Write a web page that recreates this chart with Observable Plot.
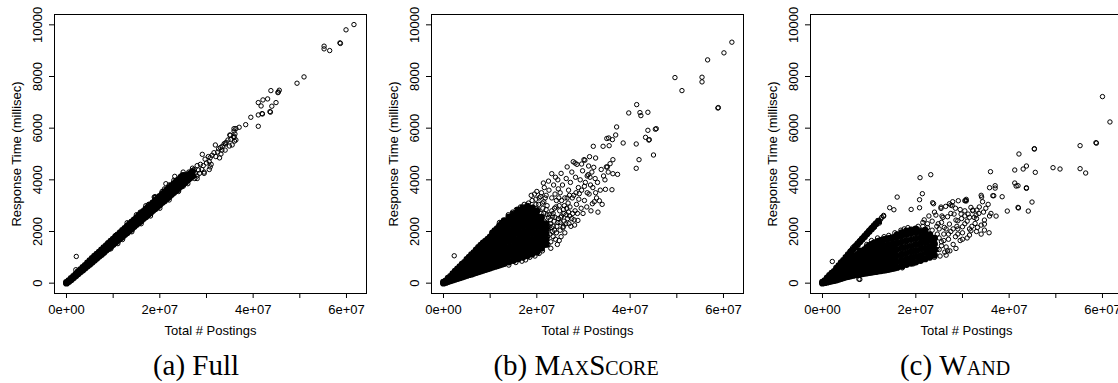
<!DOCTYPE html>
<html><head><meta charset="utf-8">
<script src="https://cdn.jsdelivr.net/npm/d3@7"></script>
<script src="https://cdn.jsdelivr.net/npm/@observablehq/plot@0.6"></script>
<style>
html,body{margin:0;padding:0;background:#fff;}
#fig{position:relative;width:1118px;height:383px;overflow:hidden;background:#fff;}
.panel{position:absolute;top:0;width:378px;height:345px;}
.panel svg{max-width:none !important;display:block;}
.cap{position:absolute;top:351px;font-family:"Liberation Serif","Times New Roman",serif;font-size:29px;line-height:29px;transform:translateX(-50%);white-space:nowrap;color:#000;}
.sc{font-variant:small-caps;}
</style></head><body><div id="fig"></div>
<script>
// ---- axis ticks ----
const xTickValues = [0, 1e7, 2e7, 3e7, 4e7, 5e7, 6e7];
const xTickLabels = ["0e+00", "", "2e+07", "", "4e+07", "", "6e+07"];
const yTickValues = [0, 2000, 4000, 6000, 8000, 10000];
const yTickLabels = ["0", "2000", "4000", "6000", "8000", "10000"];
const xTitle = "Total # Postings";
const yTitle = "Response Time (millisec)";
const captionLetters = ["(a)", "(b)", "(c)"];
const captionNames = ["Full", "MaxScore", "Wand"];

// ---- data: x in millions of postings, y in milliseconds ----
// dense cores: [x, [y values]]
const fullCore = [[0,[0,30]],[0.5,[60,100]],[1,[130,180]],[1.5,[210,260]],[2,[290,350]],[2.5,[360,440]],[3,[440,520]],[3.5,[510,610]],[4,[590,690]],[4.5,[660,780]],[5,[730,800,870]],[5.5,[810,880,960]],[6,[890,960,1040]],[6.5,[960,1040,1120]],[7,[1040,1120,1200]],[7.5,[1110,1200,1290]],[8,[1190,1280,1370]],[8.5,[1270,1360,1450]],[9,[1340,1440,1540]],[9.5,[1420,1520,1620]],[10,[1500,1600,1700]],[10.5,[1570,1680,1790]],[11,[1650,1760,1870]],[11.5,[1730,1840,1950]],[12,[1800,1920,2040]],[12.5,[1880,2000,2120]],[13,[1950,2080,2210]],[13.5,[2030,2160,2290]],[14,[2110,2240,2370]],[14.5,[2190,2320,2450]],[15,[2270,2400,2530]],[15.5,[2340,2480,2620]],[16,[2420,2560,2700]],[16.5,[2500,2640,2780]],[17,[2570,2720,2870]],[17.5,[2650,2800,2950]],[18,[2730,2880,3030]],[18.5,[2810,2960,3110]],[19,[2880,3040,3200]],[19.5,[2960,3120,3280]],[20,[3040,3200,3360]],[20.5,[3120,3280,3440]],[21,[3190,3360,3530]],[21.5,[3270,3440,3610]],[22,[3350,3520,3690]],[22.5,[3430,3600,3770]],[23,[3510,3680,3850]],[23.5,[3590,3760,3930]],[24,[3670,3840,4010]],[24.5,[3750,3920,4090]],[25,[3830,4000,4170]],[25.5,[3910,4080]],[26,[3990,4160]],[26.5,[4070,4240]],[27,[4150,4320]]];
const fullOutliers = [[61.6,10010],[59.9,9806],[58.6,9302],[58.7,9280],[55.2,9174],[55.2,9070],[56.4,9004],[50.9,7984],[49.4,7740],[45.6,7468],[45.3,7376],[45.4,7400],[43.8,7454],[43.1,7132],[42.1,7093],[41.1,6990],[41.7,6860],[44.9,6990],[44.0,6850],[43.6,6641],[43.7,6620],[41.9,6563],[42.0,6550],[41.1,6512],[39.5,6422],[41.1,6073],[38.4,6136],[37.0,6034],[35.9,5981],[36.1,5775],[35.0,5736],[36.3,5543],[35.9,5640],[34.6,5543],[34.1,5388],[34.9,5310],[33.3,5155],[31.9,5349],[29.1,4987],[23.2,4134],[21.3,3850],[18.8,3333],[2.1,1034],[2.0,520],
[26.8,4100],[27.3,4400],[27.6,4250],[28.0,4550],[28.3,4380],[28.7,4600],[29.3,4550],[29.7,4800],[30.0,4650],[30.4,4900],[30.8,4858],[30.6,4700],[31.2,4950],[31.6,5050],[32.0,4900],[32.4,5077],[32.6,5200],[33.0,5250],[33.4,5300],[33.8,5400],[34.2,5450],[35.1,5724],[35.2,5568],[35.9,5891],[35.9,5685],[36.3,5982],[36.0,5500],[33.1,5000],[31.0,4600],[29.0,4400],[27.5,4050],[26.2,4300],[25.5,4200],[25.0,3750],[24.5,4150],[24.0,3600],[23.5,3950],[22.8,3500],[22.0,3800],[21.0,3150],[20.5,3550],[19.6,3050],[19.0,3350],[18.3,2750],[17.6,3050],[16.5,2500],[15.8,2750],[14.5,2180],[13.8,2350],[30.8,4500],[29.5,4300],[28.5,4250],[32.8,4850],[34.0,5150],[35.5,5350],[30.6,4400],[29.5,4250],[28.0,4150],
[12,1690],[13,2340],[14,1990],[15,2650],[16,2300],[17,3000],[18,2600],[19,3320],[20,2900],[21,3650],[22,3220],[23,3980],[24,3550],[25,4300],[26,3850],[27,4450],[28,4050],[11,1530],[10.5,1850],[9.5,1330],[8.8,1550]];

const maxscoreCore = [[0,[0,40]],[0.5,[30,90]],[1,[60,130,190]],[1.5,[90,170,260]],[2,[120,210,290,370]],[2.5,[150,250,350,460]],[3,[180,280,380,470,550]],[3.5,[210,320,430,540,640]],[4,[240,360,480,600,730]],[4.5,[270,400,530,660,800]],[5,[300,430,560,690,820,920]],[5.5,[330,470,610,750,880,1010]],[6,[350,500,650,800,950,1100]],[6.5,[380,530,690,850,1010,1180]],[7,[410,570,730,890,1050,1200,1290]],[7.5,[440,600,770,940,1110,1270,1380]],[8,[470,640,810,980,1150,1320,1470]],[8.5,[500,670,850,1030,1210,1390,1560]],[9,[530,710,890,1070,1250,1430,1620]],[9.5,[560,740,930,1120,1310,1500,1700]],[10,[590,790,990,1190,1390,1590,1790]],[10.5,[620,820,1020,1220,1420,1620,1820,1940]],[11,[650,850,1050,1250,1450,1650,1850,2030]],[11.5,[670,870,1070,1280,1480,1690,1900,2110]],[12,[700,900,1100,1300,1500,1700,1900,2100,2220]],[12.5,[730,930,1130,1330,1530,1730,1930,2130,2320]],[13,[760,960,1160,1360,1560,1760,1960,2160,2360,2420]],[14,[820,1020,1220,1420,1620,1820,2020,2220,2420,2560]],[15,[880,1080,1280,1480,1680,1880,2080,2280,2480,2680]],[16,[940,1140,1340,1540,1740,1940,2140,2340,2540,2740,2830]],[17,[1000,1200,1400,1600,1800,2000,2200,2400,2600,2800,2920]],[18,[1060,1260,1460,1660,1860,2060,2260,2460,2660,2860,2980]],[19,[1130,1330,1530,1730,1930,2130,2330,2530,2730,2900]],[20,[1200,1400,1600,1800,2000,2200,2400,2600,2800]],[21,[1350,1550,1750,1950,2150,2350,2550]],[22,[1500,1700,1900,2100,2300]]];
const maxscoreOutliers = [[61.8,9328],[60.1,8915],[56.6,8643],[49.6,7958],[55.4,7972],[55.4,7791],[51.1,7454],[58.9,6796],[58.8,6780],[41.4,6912],[39.7,6589],[42.1,6602],[42.3,6486],[43.8,6615],[37.1,6047],[43.8,5917],[45.6,5981],[45.4,5960],[43.3,5646],[44.1,5556],[44.0,5540],[41.3,5388],[45.0,4961],[41.9,4780],[41.3,4446],[38.5,5426],[36.9,5736],[36.2,5556],[35.4,5620],[35.0,5600],[34.2,5298],[35.5,5322],[32.1,5298],[32.6,4845],[31.3,4896],[36.3,4780],[33.4,3190],[34.7,3632],[36.1,3617],[30.1,4780],[30.3,4760],[29.6,4612],[31.1,4535],[32.2,4483],[36.3,4238],[37.3,4212],[35.7,4625],[35.1,4496],[31.9,3075],[28.8,2429],[25.6,2145],[29.1,3463],[2.3,1060],[21.4,3876],[23.2,4238],[24.0,4100],
[25.0,3500],[25.5,3800],[26.0,3300],[26.3,4050],[26.8,3600],[27.2,3900],[27.5,4300],[27.9,3400],[28.3,4100],[28.6,4600],[28.9,3700],[29.3,4000],[29.8,4350],[30.4,3900],[30.8,4150],[31.5,3800],[31.8,4300],[32.5,4050],[33.0,3900],[33.8,4400],[34.3,4150],[34.9,4500],[35.3,4300],[33.6,3600],[32.8,3300],[31.2,3450],[30.2,3200],[29.5,2900],[28.2,2800],[27.0,2600],[26.2,2300],[24.6,2500],[23.8,2900],[23.2,3300],[22.6,3600],[22.0,3400],[21.5,3150],[24.2,3200],[24.9,2800],[25.8,2700],[26.7,3100],[27.6,3300],[28.5,3050],[29.9,2700],[30.7,2950],[31.6,2800],[32.3,3150],[33.1,2750],[34.0,3050],[23.5,2200],[22.8,1900],[24.0,1700],[22.4,1500],[23.0,1600],[21.2,1250],[20.5,1150],[19.6,1050],[18.5,1000],[17.6,900],[16.8,850],[15.5,800],[14.0,700],[21.8,3300],[20.8,3350],[19.8,3250],[19.0,3200],[18.2,3100],[17.3,3050],[16.5,2950],[15.6,2850],[14.8,2750],[13.9,2650],[12.0,2350],[24.5,4000],[23.6,3800],[25.2,4250],[26.5,4500],[27.8,4700],[28.2,4650],[31.0,4200],[34.6,4000],[23.0,1350],[24.4,1500],[25.2,1800],[26.0,1950],[27.3,2200],[28.0,2450],[25.0,2350],[26.8,2750],[23.9,2550],[22.2,2650],[21.6,2400],[22.9,2450],
[20.5,3300],[21.0,3500],[21.5,2700],[22.2,3000],[22.6,2200],[23.2,2800],[23.7,2400],[24.3,2200],[24.8,3000],[25.3,3200],[25.8,2400],[26.4,2900],[27.0,3400],[22.0,2850],[21.2,3100],[20.3,2850],[19.5,3450],[18.8,3400],[20.0,3550],[21.6,3700],[22.5,3950],[23.9,3450],[24.6,3650],[20.8,1400],[21.7,1600],[22.3,1800],[23.3,2000],[24.2,1950],[25.0,2050],[25.7,2200],[26.6,2500],[20.4,3050],[21.3,2900],[22.7,2650],[23.4,2600],[20.9,2700],[19.8,3050],
[19.2,2950],[19.7,2750],[20.2,2500],[20.7,2250],[21.1,2000],[21.8,1900],[22.4,2100],[22.9,2300],[23.5,2700],[24.1,2950],[24.7,3300],[25.3,2600],[25.9,3000],[26.5,3300],[27.1,2950],[27.7,2700],[28.4,3500],[29.0,3250],[29.6,3600],[30.2,3750],[30.8,3500],[31.4,4100],[32.0,3700],[32.6,3500],[20.0,1700],[20.6,1900],[21.3,1800],[21.9,2250],[22.5,2550],[23.1,2150],[23.8,2050],[24.5,2350],[25.1,2550],[25.7,2850],[26.3,2650],[26.9,2300],[27.5,2500],[28.1,2250],[28.7,2700],[19.5,1300],[19.0,1180],[20.2,1280],[21.5,1450],[22.0,1650],[23.5,1800],[24.8,1650]];

const wandCore = [[0,[0,40]],[0.5,[20,100]],[1,[40,120,200]],[1.5,[60,150,240,300]],[2,[80,180,280,390]],[2.5,[100,210,330,450]],[3,[120,240,360,480,580]],[3.5,[150,270,400,530,680]],[4,[180,300,440,580,720,790]],[4.5,[210,340,480,630,780,880]],[5,[240,380,530,680,830,1000]],[5.5,[260,420,580,740,880,1100]],[6,[280,450,620,790,950,1200]],[6.5,[300,480,660,840,1000,1300]],[7,[320,500,690,880,1060,1400]],[7.5,[330,520,720,920,1110,1500]],[8,[350,550,750,950,1150,1250,1600]],[8.5,[360,570,780,990,1200,1700]],[9,[380,590,800,1010,1230,1300,1800]],[9.5,[390,600,820,1040,1260,1380,1900]],[10,[410,620,840,1060,1280,1450,2000]],[10.5,[420,640,860,1090,1320,1500,2100]],[11,[440,660,880,1110,1340,1550,2200]],[11.5,[450,680,900,1130,1360,1580,2300]],[12,[470,700,930,1160,1390,1620,2400]],[12.5,[480,710,950,1180,1410,1650]],[13,[500,730,960,1200,1430,1680]],[13.5,[510,740,970,1210,1450,1700]],[14,[530,760,990,1230,1470,1720]],[14.5,[550,780,1010,1250,1490,1740]],[15,[570,800,1030,1270,1510,1760]],[15.5,[590,820,1050,1290,1530,1780]],[16,[610,840,1070,1310,1550,1800,1880]],[17,[660,890,1120,1360,1600,1840,1950]],[18,[720,940,1170,1400,1640,1880,2020]],[19,[770,990,1220,1450,1690,1930,2060]],[20,[820,1040,1270,1500,1730,1970,2100]],[21,[880,1100,1320,1550,1780,2000]],[22,[940,1160,1380,1600,1830,2050]],[23,[1000,1220,1440,1660,1880]],[24,[1080,1300,1520,1740]]];
const wandOutliers = [[60.0,7222],[61.6,6240],[58.6,5439],[58.7,5420],[55.2,5323],[55.2,4432],[56.4,4264],[49.4,4470],[50.9,4419],[45.4,5207],[45.4,5190],[42.1,5000],[41.2,4380],[43.0,4419],[43.7,4535],[45.6,4290],[41.2,3876],[41.5,3760],[41.9,3773],[43.7,3695],[43.7,3670],[44.9,3140],[41.9,2933],[42.0,2910],[44.1,2791],[39.6,2791],[36.0,4315],[35.8,3695],[37.0,3773],[37.0,3680],[38.5,3346],[36.5,3385],[37.2,2597],[35.7,1951],[34.1,3333],[23.2,4199],[20.9,4083],[21.4,3463],[20.8,3230],[16.0,3333],[14.4,2920],[15.3,2842],[19.0,2855],[20.8,2919],[23.8,3075],[25.4,2946],[27.2,3075],[27.5,3020],[27.9,3152],[30.7,3204],[30.8,3180],[2.1,840],[7.8,155],[8.0,145],[17.1,594],[17.2,633],[12.9,1650],
[12.5,2480],[13.1,2623],[13.1,2590],[12.7,2550],[11.9,2400],[11.5,2326],[11.1,2158],
[6,1260],[7,1460],[8,1660],[9,1860],[10,2060],[11,2260],[6.5,1380],[7.5,1560],[8.5,1760],[9.5,1960],[10.5,2160],[12.2,2330],
[34.0,3400],[36.7,3385],[34.7,2287],[34.7,2054],[33.1,2829],[32.2,2804],[31.8,2933],[30.8,3244],[30.5,3190],[29.1,3190],[27.8,2997],[26.4,2972],[28.2,2674],[29.7,2674],[31.2,2674],[32.5,2545],[33.2,2158],[31.8,2028],[34.0,1899],[32.7,2313],[29.0,2416],[27.2,2287],[26.1,2158],[25.8,2545],[23.6,3114],[25.4,2894],[32.2,2829],[34.3,3152],[36.1,2700],[34.7,2442],[34.0,2248],[31.5,1860],[28.6,1344],[26.5,1085],[23.6,1150],[20.1,1925],[24.3,2635],[28.6,2442],[30.0,2183],[32.9,2635],[26.8,2571],[35.0,2900],[35.5,3050],[34.5,2750],[35.8,2600],[33.6,2950],
[25.0,1300],[25.5,1600],[26.0,1900],[26.5,1400],[27.0,1700],[27.5,2000],[28.0,1500],[28.5,1800],[29.0,2100],[29.5,1650],[30.0,1950],[30.5,2300],[31.0,1750],[31.5,2100],[25.0,2100],[24.6,1900],[26.2,1200],[27.3,1250],[28.8,2200],[29.8,2500],[30.5,2600],[33.0,2500],[33.5,2700],[24.8,2300],[25.6,2600],[22.5,2300],[23.5,2400],[21.5,2200],[22.0,1100],[23.0,1200],[24.0,1000],[25.2,1050],[26.8,1250],[19.5,750],[21.0,900],[18.3,2150],[17.5,2100],[16.8,2050],[15.5,1950],[14.2,1850],[13.2,1800],[10.5,1650],[11.8,1750],[9.5,1500],[14.5,650],[16.0,700],[12.8,600],[11.0,520],[22.8,2600],[24.0,2750],[21.8,2450],
[20.5,2200],[21.5,2350],[22.5,2150],[23.5,2050],[24.5,2200],[25.5,2350],[24.5,1300],[25.5,1450],[26.0,1650],[27.0,1900],[28.0,2100],[29.0,1900],[30.0,1700],[31.0,2400],[32.0,2200],[33.0,2000],[27.5,2700],[28.5,2900],[29.5,2850],[30.5,2800],[31.5,2550],[25.0,1750],[26.5,2100],[24.0,1250],[23.0,1500],[22.5,1850]];

// ---- build ----
const xLabelOf = new Map(xTickValues.map((v, i) => [v, xTickLabels[i]]));
const yLabelOf = new Map(yTickValues.map((v, i) => [v, yTickLabels[i]]));

function panel(core, outliers) {
  const corePts = core.flatMap(([x, ys]) => ys.map(y => ({x: x * 1e6, y})));
  const outPts = outliers.map(([x, y]) => ({x: x * 1e6, y}));
  return Plot.plot({
    width: 378, height: 345,
    marginLeft: 54, marginRight: 12, marginTop: 14, marginBottom: 52,
    style: {fontFamily: '"Liberation Sans", Arial, Helvetica, sans-serif', fontSize: "13px", color: "#000", background: "transparent", overflow: "visible", maxWidth: "none"},
    x: {domain: [-2.571e6, 64.29e6]},
    y: {domain: [-400, 10400]},
    marks: [
      Plot.dot(corePts, {x: "x", y: "y", r: 2.8, fill: "#000", stroke: "#000", strokeWidth: 1.3}),
      Plot.dot(outPts, {x: "x", y: "y", r: 2.2, fill: "none", stroke: "#000", strokeWidth: 1}),
      Plot.frame({stroke: "#000", strokeWidth: 1}),
      Plot.axisX({ticks: xTickValues, tickFormat: d => xLabelOf.get(d) ?? "", tickSize: 5, tickPadding: 6,
        label: xTitle, labelAnchor: "center", labelOffset: 41, labelArrow: "none"}),
      Plot.axisY({ticks: yTickValues, tickFormat: d => yLabelOf.get(d) ?? "", tickSize: 5, tickPadding: 8, tickRotate: -90,
        label: yTitle, labelAnchor: "center", labelOffset: 43, labelArrow: "none"})
    ]
  });
}

const fig = document.getElementById("fig");
const datasets = [[fullCore, fullOutliers], [maxscoreCore, maxscoreOutliers], [wandCore, wandOutliers]];
const lefts = [0, 377, 756];
const capCenters = [196, 576, 955];
datasets.forEach(([c, o], i) => {
  const wrap = document.createElement("div");
  wrap.className = "panel";
  wrap.style.left = lefts[i] + "px";
  wrap.appendChild(panel(c, o));
  fig.appendChild(wrap);
  const cap = document.createElement("div");
  cap.className = "cap";
  cap.style.left = capCenters[i] + "px";
  cap.innerHTML = captionLetters[i] + " " + (i === 0 ? captionNames[i] : `<span class="sc">${captionNames[i]}</span>`);
  fig.appendChild(cap);
});
</script></body></html>
